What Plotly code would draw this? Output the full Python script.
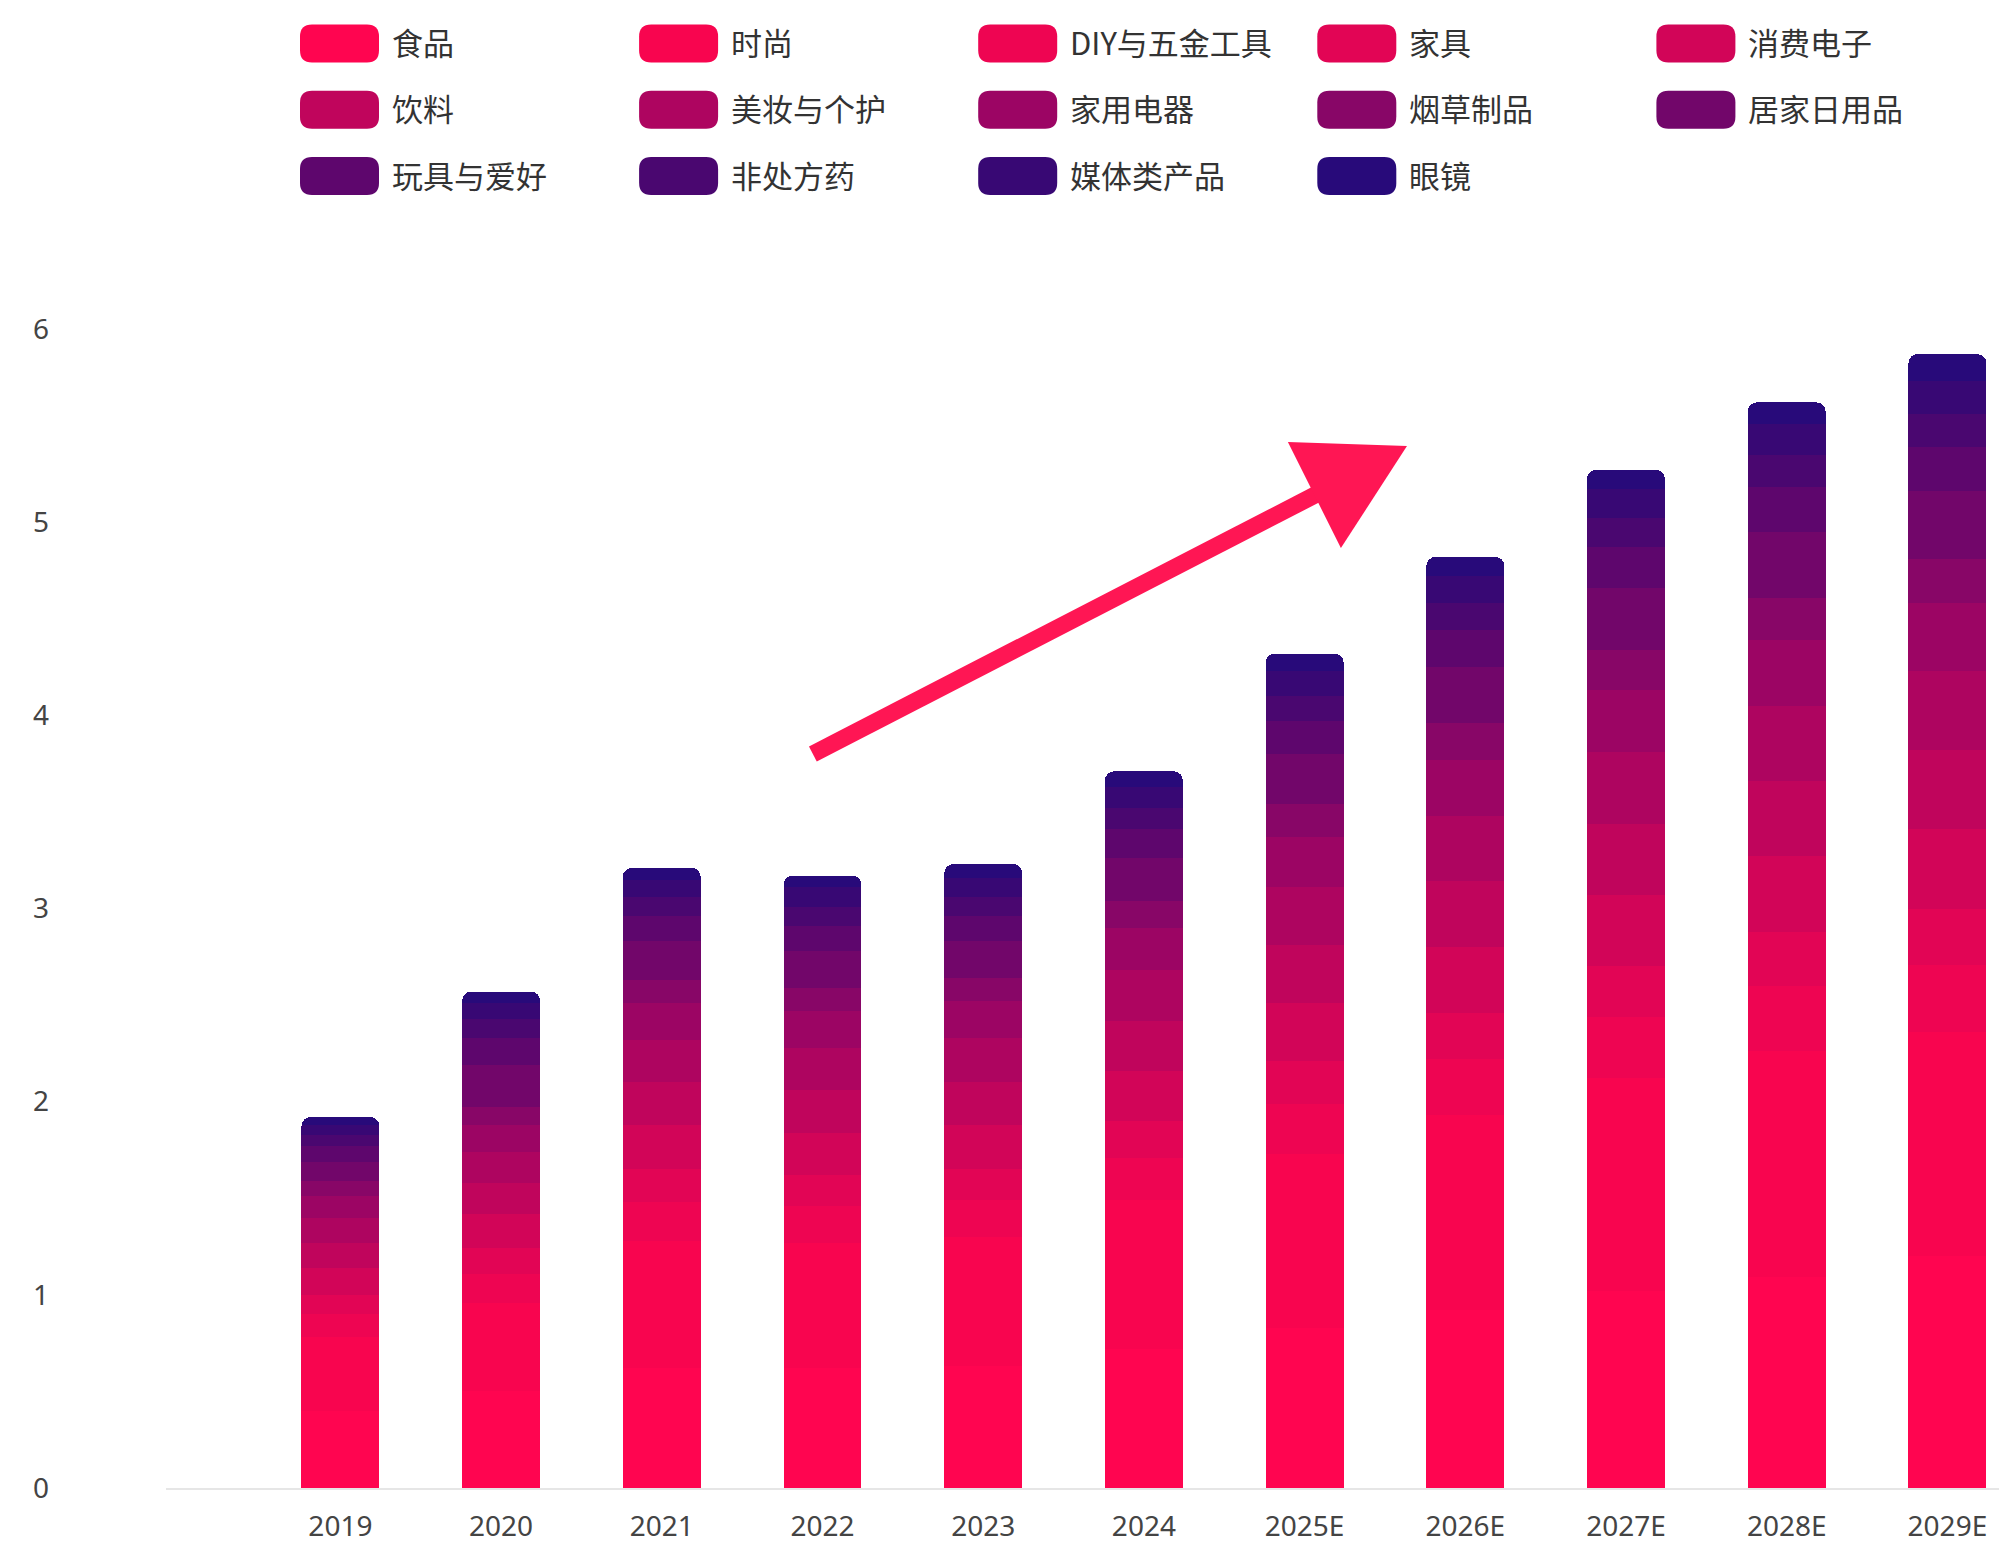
import plotly.graph_objects as go

# ---- data -------------------------------------------------------------
years = ["2019", "2020", "2021", "2022", "2023", "2024",
         "2025E", "2026E", "2027E", "2028E", "2029E"]

categories = ["食品", "时尚", "DIY与五金工具", "家具", "消费电子",
              "饮料", "美妆与个护", "家用电器", "烟草制品", "居家日用品",
              "玩具与爱好", "非处方药", "媒体类产品", "眼镜"]

food        = [0.40, 0.50, 0.62, 0.62, 0.63, 0.72, 0.83, 0.92, 1.02, 1.09, 1.20]
fashion     = [0.38, 0.46, 0.66, 0.65, 0.67, 0.77, 0.90, 1.01, 1.10, 1.17, 1.16]
diy_tools   = [0.12, 0.15, 0.20, 0.19, 0.19, 0.22, 0.26, 0.29, 0.32, 0.34, 0.35]
furniture   = [0.10, 0.13, 0.17, 0.16, 0.16, 0.19, 0.22, 0.24, 0.26, 0.28, 0.29]
electronics = [0.14, 0.18, 0.23, 0.22, 0.23, 0.26, 0.30, 0.34, 0.37, 0.39, 0.41]
beverages   = [0.13, 0.16, 0.22, 0.22, 0.22, 0.26, 0.30, 0.34, 0.37, 0.39, 0.41]
beauty      = [0.13, 0.16, 0.22, 0.22, 0.23, 0.26, 0.30, 0.34, 0.37, 0.39, 0.41]
appliances  = [0.11, 0.14, 0.19, 0.19, 0.19, 0.22, 0.26, 0.29, 0.32, 0.34, 0.35]
tobacco     = [0.08, 0.09, 0.12, 0.12, 0.12, 0.14, 0.17, 0.19, 0.21, 0.22, 0.23]
household   = [0.10, 0.22, 0.20, 0.19, 0.19, 0.22, 0.26, 0.29, 0.32, 0.34, 0.35]
toys        = [0.08, 0.14, 0.13, 0.13, 0.13, 0.15, 0.17, 0.19, 0.21, 0.23, 0.23]
otc_drugs   = [0.06, 0.10, 0.10, 0.10, 0.10, 0.11, 0.13, 0.14, 0.15, 0.17, 0.17]
media       = [0.05, 0.08, 0.09, 0.10, 0.10, 0.11, 0.13, 0.14, 0.15, 0.16, 0.17]
eyewear     = [0.04, 0.06, 0.06, 0.06, 0.07, 0.08, 0.09, 0.10, 0.10, 0.11, 0.14]

series = [food, fashion, diy_tools, furniture, electronics, beverages, beauty,
          appliances, tobacco, household, toys, otc_drugs, media, eyewear]

y_ticks = [0, 1, 2, 3, 4, 5, 6]

# pink-to-indigo ramp, bottom of the stack to the top
colors = ["#FF0550", "#F8054F", "#EE0552", "#E20555", "#D20558",
          "#C0055C", "#AE0560", "#9C0564", "#880667", "#72066A",
          "#5E066D", "#4A0770", "#380874", "#280A7A"]

# ---- geometry ---------------------------------------------------------
W, H = 1999, 1543
ML, MR, MT, MB = 166, 0, 329, 55
PW, PH = W - ML - MR, H - MT - MB


def px_to_paper(px, py):
    return (px - ML) / PW, (H - MB - py) / PH


def rounded_rect(x0, y0, x1, y1, r):
    """SVG path for a rounded rectangle given in page pixels."""
    ax, top = px_to_paper(x0, y0)
    bx, bot = px_to_paper(x1, y1)
    rx, ry = r / PW, r / PH
    pts = [
        f"M{ax + rx},{top}",
        f"L{bx - rx},{top}",
        f"Q{bx},{top} {bx},{top - ry}",
        f"L{bx},{bot + ry}",
        f"Q{bx},{bot} {bx - rx},{bot}",
        f"L{ax + rx},{bot}",
        f"Q{ax},{bot} {ax},{bot + ry}",
        f"L{ax},{top - ry}",
        f"Q{ax},{top} {ax + rx},{top}",
        "Z",
    ]
    return " ".join(pts)


xs = list(range(len(years)))
fig = go.Figure()
for name, vals, col in zip(categories, series, colors):
    fig.add_trace(go.Bar(
        x=xs, y=vals, name=name, width=0.485,
        marker=dict(color=col, line=dict(width=0)),
        showlegend=False,
    ))

# ---- custom legend: rounded swatches with labels -----------------------
shapes = []
annotations = []
for i, (name, col) in enumerate(zip(categories, colors)):
    row, c = divmod(i, 5)
    left = 300 + c * 339.1
    cy = 43.5 + row * 66.3
    shapes.append(dict(
        type="path", xref="paper", yref="paper",
        path=rounded_rect(left, cy - 19, left + 79, cy + 19, 12),
        fillcolor=col, line=dict(width=0), layer="above",
    ))
    tx, ty = px_to_paper(left + 90, cy - 2)
    annotations.append(dict(
        x=tx, y=ty, xref="paper", yref="paper", text=name,
        showarrow=False, xanchor="left", yanchor="middle",
        font=dict(family="Noto Sans CJK SC", size=31, color="#333333"),
    ))

# ---- trend arrow ----------------------------------------------------------
arrow_color = "#FF1654"
shapes.append(dict(
    type="line", xref="x", yref="y",
    x0=2.94, y0=3.80, x1=6.25, y1=5.22,
    line=dict(color=arrow_color, width=17), layer="above",
))
shapes.append(dict(
    type="path", xref="x", yref="y",
    path="M6.637,5.394 L5.896,5.415 L6.226,4.866 Z",
    fillcolor=arrow_color, line=dict(width=0), layer="above",
))

x_lo = -(340.4 - ML) / 160.7
x_hi = x_lo + PW / 160.7

fig.update_layout(
    width=W, height=H,
    margin=dict(l=ML, r=MR, t=MT, b=MB, pad=0),
    barmode="stack",
    barcornerradius=9,
    plot_bgcolor="white", paper_bgcolor="white",
    shapes=shapes, annotations=annotations,
    font=dict(family="Noto Sans", color="#444444"),
    xaxis=dict(
        range=[x_lo, x_hi], tickmode="array", tickvals=xs, ticktext=years,
        showgrid=False, zeroline=False, showline=True,
        linecolor="#E6E6E6", linewidth=2, ticks="",
        tickfont=dict(family="Noto Sans", size=28, color="#444444"),
        ticklabelstandoff=12, automargin=False,
    ),
    yaxis=dict(
        range=[0, 6], tickmode="array", tickvals=y_ticks,
        showgrid=False, zeroline=False, showline=False, ticks="",
        tickfont=dict(family="Noto Sans", size=28, color="#444444"),
        ticklabelstandoff=116, automargin=False,
    ),
)

fig.write_html("out.html")
